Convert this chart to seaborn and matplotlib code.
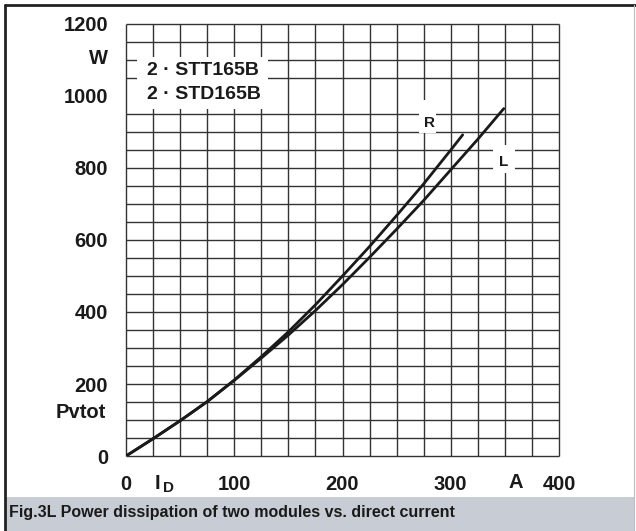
import matplotlib
matplotlib.use("Agg")
import matplotlib.pyplot as plt
import matplotlib.lines as mlines
from matplotlib.patches import Rectangle
import seaborn as sns
import pandas as pd

# ---- data ----
r_current = [0, 25, 50, 75, 100, 125, 150, 175, 200, 225, 250, 275, 300, 311]
r_power = [0, 48, 98, 151, 211, 276, 345, 420, 500, 582, 668, 756, 850, 892]
l_current = [0, 25, 50, 75, 100, 125, 150, 175, 200, 225, 250, 275, 300, 325, 349]
l_power = [0, 48, 98, 151, 210, 272, 336, 404, 476, 552, 630, 710, 795, 880, 965]

x_ticks = [0, 100, 200, 300, 400]
y_ticks = [0, 200, 400, 600, 800, 1000, 1200]
x_grid = list(range(0, 401, 25))
y_grid = [v for v in range(0, 1201, 50) if v != 1000]
device_lines = ["2 \u00b7 STT165B", "2 \u00b7 STD165B"]
caption = "Fig.3L Power dissipation of two modules vs. direct current"

sns.set_style("white")
plt.rcParams["font.family"] = ["Liberation Sans", "DejaVu Sans"]
plt.rcParams["font.weight"] = "bold"

W, H = 636, 531
fig = plt.figure(figsize=(W / 100, H / 100), dpi=100)
fig.patch.set_facecolor("white")
ax = fig.add_axes([126 / W, 1 - 456 / H, 433 / W, 432 / H])
ax.set_xlim(0, 400)
ax.set_ylim(0, 1200)
for s in ax.spines.values():
    s.set_visible(False)

gc = "#333333"
ax.vlines(x_grid, 0, 1200, color=gc, lw=1.0, zorder=1, clip_on=False)
ax.hlines(y_grid, 0, 400, color=gc, lw=1.0, zorder=1, clip_on=False)

df = pd.concat([
    pd.DataFrame({"I": r_current, "P": r_power, "curve": "R"}),
    pd.DataFrame({"I": l_current, "P": l_power, "curve": "L"}),
])
sns.lineplot(data=df, x="I", y="P", hue="curve",
             palette={"R": "#1a1a1a", "L": "#1a1a1a"}, legend=False,
             sort=False, estimator=None, lw=2.0, ax=ax, zorder=5)

tc = "#1a1a1a"
ax.set_xticks(x_ticks)
ax.set_xticklabels([str(v) for v in x_ticks])
ax.set_yticks(y_ticks)
ax.set_yticklabels([str(v) for v in y_ticks])
ax.tick_params(axis="both", length=0, labelsize=14.5, colors=tc)
ax.tick_params(axis="x", pad=14)
ax.tick_params(axis="y", pad=13)
for lab in ax.get_xticklabels() + ax.get_yticklabels():
    lab.set_fontweight("bold")
ax.set_xlabel("")
ax.set_ylabel("")

# axis unit / name labels
ax.text(-16.6, 1105, "W", ha="right", va="center", fontsize=14.5, fontweight="bold", color=tc, clip_on=False)
ax.text(-18.5, 120, "Pvtot", ha="right", va="center", fontsize=14.5, fontweight="bold", color=tc, clip_on=False)
ax.text(29.5, -76, "I", ha="center", va="center", fontsize=14.5, fontweight="bold", color=tc, clip_on=False)
ax.text(39, -90, "D", ha="center", va="center", fontsize=11, fontweight="bold", color=tc, clip_on=False)
ax.text(360, -74, "A", ha="center", va="center", fontsize=14.5, fontweight="bold", color=tc, clip_on=False)

# device label box
ax.add_patch(Rectangle((10, 965), 121, 143, fc="white", ec="none", zorder=3))
ax.text(71, 1070, device_lines[0], ha="center", va="center", fontsize=14, fontweight="bold", color=tc, zorder=4)
ax.text(72, 1003, device_lines[1], ha="center", va="center", fontsize=14, fontweight="bold", color=tc, zorder=4)

# curve labels
ax.add_patch(Rectangle((270.5, 897), 15.5, 92, fc="white", ec="none", zorder=3))
ax.text(280, 926, "R", ha="center", va="center", fontsize=11, fontweight="bold", color=tc, zorder=4)
ax.add_patch(Rectangle((339, 786), 20, 78, fc="white", ec="none", zorder=3))
ax.text(348.7, 816, "L", ha="center", va="center", fontsize=11, fontweight="bold", color=tc, zorder=4)

# caption band and frame
fig.patches.append(Rectangle((6 / W, 0), 628 / W, 34 / H, transform=fig.transFigure,
                             fc="#c8ccd4", ec="none", zorder=0))
fig.text(9 / W, 1 - 512 / H, caption, ha="left", va="center", fontsize=11.5,
         fontweight="bold", color=tc)
fig.add_artist(mlines.Line2D([5 / W, 5 / W], [0, 1 - 5 / H], transform=fig.transFigure, color="#222222", lw=2.0))
fig.add_artist(mlines.Line2D([5 / W, 1], [1 - 5 / H, 1 - 5 / H], transform=fig.transFigure, color="#222222", lw=2.0))
fig.add_artist(mlines.Line2D([634 / W, 634 / W], [0, 1 - 5 / H], transform=fig.transFigure, color="#bdbdbd", lw=0.8))

fig.savefig("out.png", dpi=100)
